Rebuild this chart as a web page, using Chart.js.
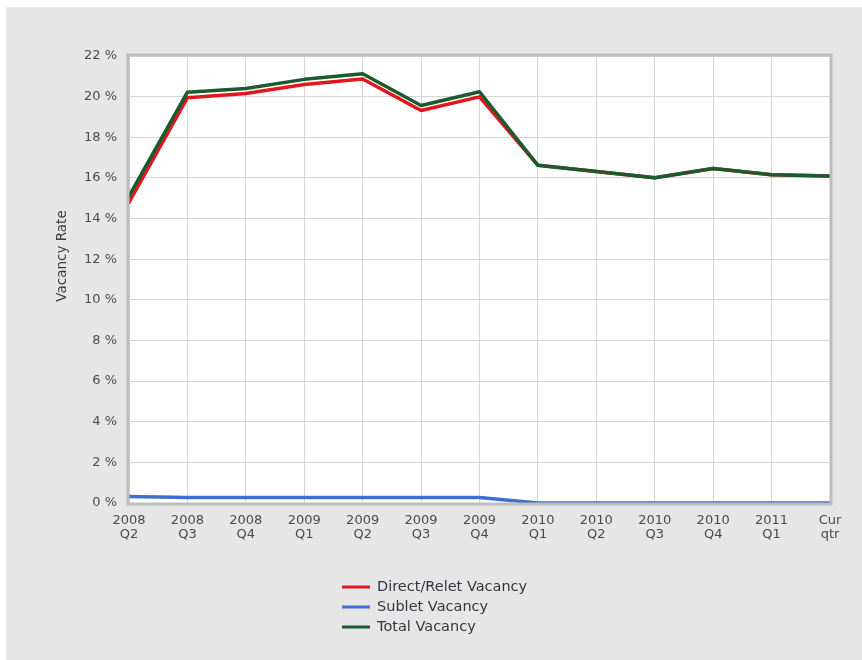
<!DOCTYPE html>
<html>
<head>
<meta charset="utf-8">
<script src="https://cdn.jsdelivr.net/npm/chart.js@4/dist/chart.umd.min.js"></script>
<style>
  html, body { margin: 0; padding: 0; background: #fff; }
  #panel { position: absolute; left: 6px; top: 7px; width: 856px; height: 653px; background: #e6e6e6; }
  canvas { display: block; }
</style>
</head>
<body>
<div id="panel"><canvas id="vacancyChart" width="856" height="653"></canvas></div>
<script>
// Vacancy rate by quarter
const quarters = [
    ['2008', 'Q2'], ['2008', 'Q3'], ['2008', 'Q4'], ['2009', 'Q1'], ['2009', 'Q2'], ['2009', 'Q3'],
    ['2009', 'Q4'], ['2010', 'Q1'], ['2010', 'Q2'], ['2010', 'Q3'], ['2010', 'Q4'], ['2011', 'Q1'], ['Cur', 'qtr']
];
const directVacancy = [14.8, 19.95, 20.15, 20.6, 20.87, 19.32, 19.99, 16.62, 16.32, 16.01, 16.46, 16.16, 16.09];
const subletVacancy = [0.32, 0.27, 0.27, 0.27, 0.27, 0.27, 0.27, 0, 0, 0, 0, 0, 0];
const totalVacancy  = [15.1, 20.22, 20.4, 20.85, 21.13, 19.56, 20.24, 16.62, 16.32, 16.01, 16.46, 16.16, 16.09];
const yTicks = [0, 2, 4, 6, 8, 10, 12, 14, 16, 18, 20, 22];

const FONT = 'DejaVu Sans, Verdana, sans-serif';

// white plot background + grey frame
const plotFrame = {
    id: 'plotFrame',
    beforeDraw(chart) {
        const { ctx, chartArea: a } = chart;
        ctx.save();
        ctx.fillStyle = '#ffffff';
        ctx.fillRect(a.left, a.top, a.right - a.left, a.bottom - a.top);
        ctx.restore();
    },
    afterDatasetsDraw(chart) {
        const { ctx, chartArea: a } = chart;
        ctx.save();
        ctx.strokeStyle = '#bdbdbd';
        ctx.lineWidth = 3;
        ctx.strokeRect(a.left - 1, a.top - 1, a.right - a.left + 2, a.bottom - a.top + 2);
        ctx.restore();
    }
};

// axis title and stacked legend
const extras = {
    id: 'extras',
    afterDraw(chart) {
        const { ctx } = chart;
        ctx.save();
        ctx.fillStyle = '#3c3c3c';
        ctx.font = '13.5px ' + FONT;
        ctx.textAlign = 'center';
        ctx.textBaseline = 'middle';
        ctx.translate(56, 249);
        ctx.rotate(-Math.PI / 2);
        ctx.fillText('Vacancy Rate', 0, 0);
        ctx.restore();

        ctx.save();
        ctx.font = '14.5px ' + FONT;
        ctx.textBaseline = 'middle';
        chart.data.datasets.forEach((ds, i) => {
            const y = 580 + i * 20;
            ctx.strokeStyle = ds.borderColor;
            ctx.lineWidth = 3;
            ctx.beginPath();
            ctx.moveTo(336, y);
            ctx.lineTo(364, y);
            ctx.stroke();
            ctx.fillStyle = '#34343f';
            ctx.fillText(ds.label, 371, y);
        });
        ctx.restore();
    }
};

new Chart(document.getElementById('vacancyChart'), {
    type: 'line',
    data: {
        labels: quarters,
        datasets: [
            { label: 'Direct/Relet Vacancy', data: directVacancy, borderColor: '#e3161d', order: 2 },
            { label: 'Sublet Vacancy', data: subletVacancy, borderColor: '#3d6fd2', order: 1 },
            { label: 'Total Vacancy', data: totalVacancy, borderColor: '#1b5a2f', order: 0 }
        ]
    },
    options: {
        responsive: false,
        animation: false,
        layout: { padding: { top: 49, right: 32, left: 0, bottom: 0 } },
        elements: {
            line: { borderWidth: 3.5, tension: 0, fill: false, borderCapStyle: 'round', borderJoinStyle: 'round' },
            point: { radius: 0 }
        },
        plugins: {
            legend: { display: false },
            tooltip: { enabled: false }
        },
        scales: {
            x: {
                offset: false,
                grid: { color: '#d4d4d4', lineWidth: 1, drawTicks: false },
                border: { display: false },
                ticks: {
                    color: '#4a4a4a',
                    font: { family: FONT, size: 13, lineHeight: 1.1 },
                    padding: 10,
                    maxRotation: 0,
                    autoSkip: false
                },
                afterFit(scale) { scale.height = 157; }
            },
            y: {
                min: 0,
                max: 22,
                afterBuildTicks(scale) { scale.ticks = yTicks.map(v => ({ value: v })); },
                grid: { color: '#d4d4d4', lineWidth: 1, drawTicks: false },
                border: { display: false },
                ticks: {
                    color: '#4a4a4a',
                    font: { family: FONT, size: 13 },
                    padding: 12,
                    callback: v => v + ' %'
                },
                afterFit(scale) { scale.width = 123; }
            }
        }
    },
    plugins: [plotFrame, extras]
});
</script>
</body>
</html>
